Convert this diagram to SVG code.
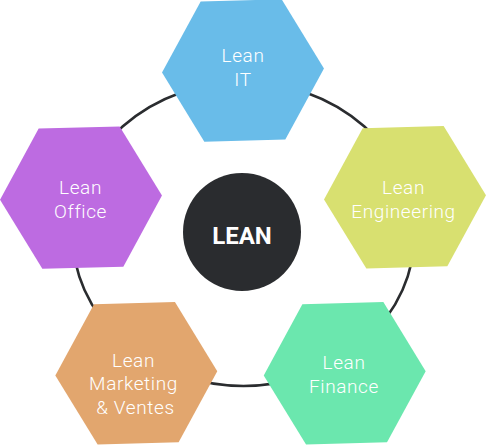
<svg xmlns="http://www.w3.org/2000/svg" width="487" height="445" viewBox="0 0 487 445">
<defs>
<style>
.hex{stroke:none}
.lbl{font-family:Roboto,"Liberation Sans",sans-serif;font-weight:300;font-size:19px;letter-spacing:0.6px;fill:#ffffff;text-anchor:middle}
.ring{fill:none;stroke:#2a2c2f;stroke-width:2.6}
</style>
<polygon id="hexshape" points="81,0 40.5,70.15 -40.5,70.15 -81,0 -40.5,-70.15 40.5,-70.15"/>
</defs>
<rect width="487" height="445" fill="#ffffff"/>
<g id="connectors">
<ellipse class="ring" cx="243.5" cy="234" rx="171" ry="152"/>
</g>
<g id="center">
<circle cx="242" cy="232" r="59" fill="#2a2c2f"/>
<text x="242" y="244" style="font-family:Roboto,'Liberation Sans',sans-serif;font-weight:700;font-size:24px;fill:#ffffff;text-anchor:middle">LEAN</text>
</g>
<g id="lean-it">
<use href="#hexshape" transform="translate(243,70.5) rotate(-1.5)" fill="#69bce9"/>
<text class="lbl" x="243" y="62">Lean</text>
<text class="lbl" x="243" y="86">IT</text>
</g>
<g id="lean-office">
<use href="#hexshape" transform="translate(81,197.6) rotate(-1.5)" fill="#bd6be1"/>
<text class="lbl" x="80.5" y="194">Lean</text>
<text class="lbl" x="80.5" y="217.5">Office</text>
</g>
<g id="lean-engineering">
<use href="#hexshape" transform="translate(405,197.3) rotate(-1.5)" fill="#d8e070"/>
<text class="lbl" x="403.5" y="194">Lean</text>
<text class="lbl" x="403.5" y="217.5">Engineering</text>
</g>
<g id="lean-marketing">
<use href="#hexshape" transform="translate(136.3,373.3) rotate(-1.5)" fill="#e2a66e"/>
<text class="lbl" x="133.5" y="366.5">Lean</text>
<text class="lbl" x="133.5" y="390">Marketing</text>
<text class="lbl" x="135.5" y="414">&amp; Ventes</text>
</g>
<g id="lean-finance">
<use href="#hexshape" transform="translate(344.7,373.3) rotate(-1.5)" fill="#6be7ae"/>
<text class="lbl" x="344" y="369">Lean</text>
<text class="lbl" x="344" y="392.5">Finance</text>
</g>
</svg>
